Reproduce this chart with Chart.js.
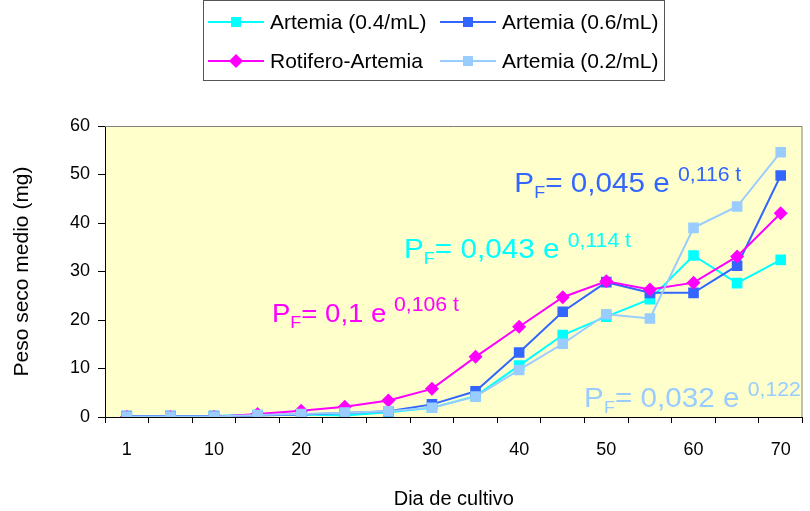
<!DOCTYPE html>
<html>
<head>
<meta charset="utf-8">
<script src="https://cdn.jsdelivr.net/npm/chart.js@4.4.0/dist/chart.umd.min.js"></script>
<style>
html, body { margin: 0; padding: 0; background: #fff; overflow: hidden; }
#wrap { width: 810px; height: 511px; position: relative; }
</style>
</head>
<body>
<div id="wrap"><canvas id="pesoChart"></canvas></div>
<script>
// tick labels of the day axis (blank = unlabeled sampling day)
const tickLabels = ['1', '', '10', '', '20', '', '', '30', '', '40', '', '50', '', '60', '', '70'];

const artemia04 = [0.2, 0.2, 0.2, 0.4, 0.5, 0.3, 1.0, 1.9, 4.3, 10.6, 16.9, 20.7, 24.3, 33.3, 27.6, 32.4];
const artemia06 = [0.2, 0.2, 0.2, 0.3, 0.5, 0.8, 1.2, 2.6, 5.3, 13.3, 21.7, 27.8, 25.6, 25.6, 31.2, 49.8];
const rotiferoArtemia = [0, 0, 0, 0.6, 1.3, 2.1, 3.4, 5.8, 12.4, 18.6, 24.7, 28.0, 26.3, 27.7, 33.1, 42.0];
const artemia02 = [0.1, 0.1, 0.1, 0.4, 0.6, 0.9, 1.2, 1.9, 4.2, 9.7, 15.1, 21.2, 20.3, 39.0, 43.4, 54.6];

const eqCoefs = ['0,1', '0,043', '0,045', '0,032'];
const eqRates = ['0,106', '0,114', '0,116', '0,122'];

const FONT = "'Liberation Sans', Arial, sans-serif";

// where each fit equation sits (category index, y value of baseline)
const eqPlace = [
    { x: 3.33, y: 19.6, size: 26, color: '#FF00FF' },
    { x: 6.36, y: 32.8, size: 28, color: '#00FFFF' },
    { x: 8.89, y: 46.4, size: 28, color: '#3366FF' },
    { x: 10.49, y: 2.1, size: 28, color: '#99CCFF' }
];

const plotBg = {
    id: 'plotBg',
    beforeDraw(chart) {
        const a = chart.chartArea, ctx = chart.ctx;
        ctx.save();
        ctx.fillStyle = '#FFFFCC';
        ctx.fillRect(a.left, a.top, a.right - a.left, a.bottom - a.top);
        ctx.restore();
    },
    afterDraw(chart) {
        const a = chart.chartArea, ctx = chart.ctx;
        ctx.save();
        ctx.strokeStyle = '#808080';
        ctx.lineWidth = 1;
        ctx.beginPath();
        ctx.moveTo(a.left, a.top + 0.5);
        ctx.lineTo(a.right - 0.5, a.top + 0.5);
        ctx.lineTo(a.right - 0.5, a.bottom);
        ctx.stroke();
        ctx.restore();
    }
};

const equations = {
    id: 'equations',
    afterDatasetsDraw(chart) {
        const a = chart.chartArea, ctx = chart.ctx;
        const xs = chart.scales.x, ys = chart.scales.y;
        ctx.save();
        ctx.beginPath();
        ctx.rect(a.left, a.top, a.right - a.left - 1, a.bottom - a.top);
        ctx.clip();
        ctx.textBaseline = 'alphabetic';
        ctx.textAlign = 'left';
        eqPlace.forEach((p, i) => {
            const x0 = xs.getPixelForValue(p.x);
            const y = ys.getPixelForValue(p.y);
            ctx.save();
            ctx.translate(x0, y);
            ctx.scale(1.06, 1);
            let x = 0;
            ctx.fillStyle = p.color;
            ctx.font = p.size + 'px ' + FONT;
            ctx.fillText('P', x, 0);
            x += ctx.measureText('P').width;
            ctx.font = '17px ' + FONT;
            ctx.fillText('F', x, 6);
            x += ctx.measureText('F').width;
            ctx.font = p.size + 'px ' + FONT;
            const body = '= ' + eqCoefs[i] + ' e ';
            ctx.fillText(body, x, 0);
            x += ctx.measureText(body).width;
            ctx.font = '20px ' + FONT;
            ctx.fillText(eqRates[i] + ' t', x, -11);
            ctx.restore();
        });
        ctx.restore();
    }
};

const boxLegend = {
    id: 'boxLegend',
    afterDraw(chart) {
        const ctx = chart.ctx;
        const ds = chart.data.datasets;
        const cols = [208, 440];
        const rows = [22, 61];
        const lineLen = 56;
        ctx.save();
        ctx.strokeStyle = '#555';
        ctx.lineWidth = 1;
        ctx.strokeRect(203.5, 0.5, 461, 80);
        ctx.font = '21px ' + FONT;
        ctx.textBaseline = 'middle';
        ctx.textAlign = 'left';
        ds.forEach((d, i) => {
            const x = cols[i % 2], y = rows[Math.floor(i / 2)];
            ctx.strokeStyle = d.borderColor;
            ctx.lineWidth = 2;
            ctx.beginPath();
            ctx.moveTo(x, y);
            ctx.lineTo(x + lineLen, y);
            ctx.stroke();
            const cx = x + lineLen / 2;
            ctx.fillStyle = d.borderColor;
            ctx.beginPath();
            if (d.pointStyle === 'rectRot') {
                ctx.moveTo(cx - 7, y);
                ctx.lineTo(cx, y - 7);
                ctx.lineTo(cx + 7, y);
                ctx.lineTo(cx, y + 7);
                ctx.closePath();
            } else {
                ctx.rect(cx - 5, y - 5, 10, 10);
            }
            ctx.fill();
            ctx.fillStyle = '#000';
            ctx.fillText(d.label, x + lineLen + 6, y + 1);
        });
        ctx.restore();
    }
};

function series(label, data, color, style, radius, order) {
    return {
        label: label,
        data: data,
        borderColor: color,
        backgroundColor: color,
        borderWidth: 2,
        pointStyle: style,
        pointRadius: radius,
        pointBorderWidth: 0,
        tension: 0,
        fill: false,
        order: order
    };
}

const ctx = document.getElementById('pesoChart').getContext('2d');
const pesoChart = new Chart(ctx, {
    type: 'line',
    data: {
        labels: tickLabels,
        datasets: [
            series('Artemia (0.4/mL)', artemia04, '#00FFFF', 'rect', 7.5, 3),
            series('Artemia (0.6/mL)', artemia06, '#3366FF', 'rect', 7.5, 2),
            series('Rotifero-Artemia', rotiferoArtemia, '#FF00FF', 'rectRot', 7, 1),
            series('Artemia (0.2/mL)', artemia02, '#99CCFF', 'rect', 7.5, 0)
        ]
    },
    options: {
        responsive: true,
        maintainAspectRatio: false,
        animation: false,
        layout: { padding: { top: 126, left: 0, right: 1, bottom: 0 } },
        plugins: {
            legend: { display: false },
            tooltip: { enabled: false }
        },
        scales: {
            x: {
                type: 'category',
                offset: true,
                afterFit(scale) {
                    scale.height = 94;
                    scale.paddingLeft = 0;
                    scale.paddingRight = 0;
                },
                grid: { offset: true, drawOnChartArea: false, tickLength: 6, color: '#000' },
                border: { color: '#000', width: 1 },
                ticks: {
                    autoSkip: false, maxRotation: 0, padding: 16,
                    color: '#000', font: { family: FONT, size: 18 }
                },
                title: {
                    display: true, text: 'Dia de cultivo', color: '#000',
                    font: { family: FONT, size: 20 }, padding: { top: 0, bottom: 0 }
                }
            },
            y: {
                min: 0,
                max: 60,
                afterFit(scale) { scale.width = 105; },
                grid: { drawOnChartArea: false, tickLength: 7, color: '#000' },
                border: { color: '#000', width: 1 },
                ticks: {
                    stepSize: 10, padding: 8,
                    color: '#000', font: { family: FONT, size: 18 }
                },
                title: {
                    display: true, text: 'Peso seco medio (mg)', color: '#000',
                    font: { family: FONT, size: 21 }, padding: { top: 10, bottom: 0 }
                }
            }
        }
    },
    plugins: [plotBg, equations, boxLegend]
});
</script>
</body>
</html>
